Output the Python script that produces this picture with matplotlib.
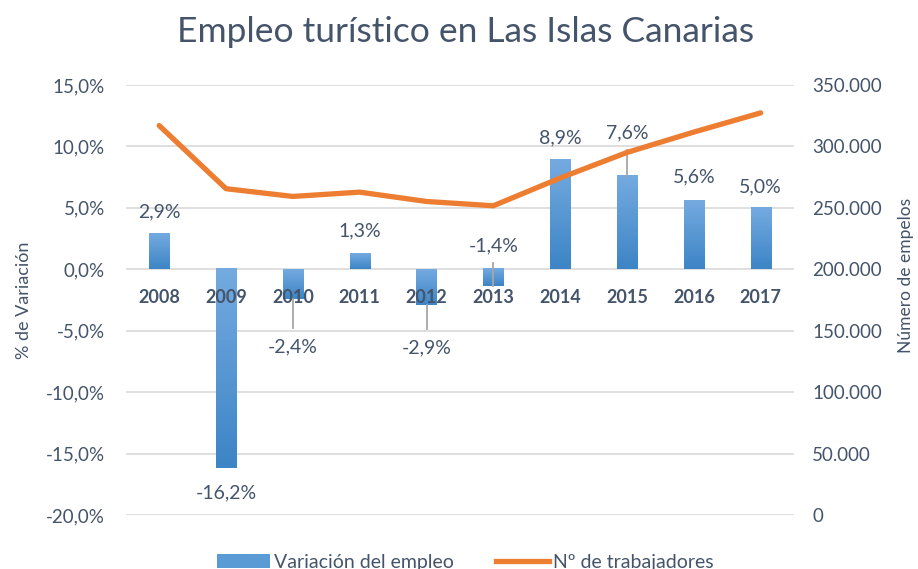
import numpy as np
import matplotlib
matplotlib.use('Agg')
import matplotlib.pyplot as plt
from matplotlib.colors import LinearSegmentedColormap
from matplotlib.patches import Patch
from matplotlib.lines import Line2D

plt.rcParams['font.family'] = ['Lato', 'DejaVu Sans']

# datos
years = ['2008', '2009', '2010', '2011', '2012', '2013', '2014', '2015', '2016', '2017']
variacion = [2.9, -16.2, -2.4, 1.3, -2.9, -1.4, 8.9, 7.6, 5.6, 5.0]
trabajadores = [317000, 265600, 259300, 262800, 255200, 251700, 274300, 295100, 311700, 327300]
etiquetas = ['2,9%', '-16,2%', '-2,4%', '1,3%', '-2,9%', '-1,4%', '8,9%', '7,6%', '5,6%', '5,0%']

txt = '#44546a'
fig = plt.figure(figsize=(9.18, 5.69), dpi=100)
ax = fig.add_axes([0.137, 0.0949, 0.728, 0.7557])
ax2 = ax.twinx()

x = np.arange(len(years))
w = 0.3
cmap = LinearSegmentedColormap.from_list('azul', ['#3d85c6', '#74aae0'])
grad = np.linspace(0, 1, 50).reshape(-1, 1)
for xi, v in zip(x, variacion):
    bot, top = min(0, v), max(0, v)
    ax.imshow(grad, extent=[xi - w/2, xi + w/2, bot, top], origin='lower',
              cmap=cmap, aspect='auto', zorder=2)
ax.set_xlim(-0.5, len(years) - 0.5)
ax.set_ylim(-20, 15)
ax.set_yticks(np.arange(-20, 16, 5))
ax.set_yticklabels([f'{t:.1f}%'.replace('.', ',') for t in np.arange(-20, 16, 5)])
ax.grid(axis='y', color='#d9d9d9', lw=1.2, zorder=0)
ax.set_axisbelow(True)
ax.set_xticks([])
for s in ax.spines.values():
    s.set_visible(False)
for s in ax2.spines.values():
    s.set_visible(False)
ax.tick_params(axis='y', length=0, labelsize=13.5, labelcolor=txt, pad=15)
ax.set_ylabel('% de Variación', fontsize=13, color=txt, va='center')
ax.yaxis.set_label_coords(-0.152, 0.5)

# años
for xi, y in zip(x, years):
    ax.text(xi, -2.3, y, ha='center', va='center', fontsize=13,
            fontweight='bold', color=txt, zorder=3)

# etiquetas de valores (posiciones en %)
lab_y = [4.7, -18.2, -6.3, 3.1, -6.4, 1.9, 10.7, 11.1, 7.5, 6.7]
for xi, v, s, ly in zip(x, variacion, etiquetas, lab_y):
    ax.text(xi, ly, s, ha='center', va='center', fontsize=14, color=txt, zorder=4)
# lineas guia
guias = {2: (-2.4, -4.8), 4: (-2.9, -4.9), 5: (0.5, -1.4), 7: (7.6, 9.7)}
for i, (a, b) in guias.items():
    ax.plot([x[i], x[i]], [a, b], color='#a6a6a6', lw=1.3, zorder=3)

ax2.plot(x, trabajadores, color='#ed7d31', lw=3.8, solid_capstyle='round', zorder=5)
ax2.set_ylim(0, 350000)
ax2.set_yticks(np.arange(0, 350001, 50000))
ax2.set_yticklabels(['0'] + [f'{int(t/1000)}.000' for t in np.arange(50000, 350001, 50000)])
ax2.tick_params(axis='y', length=0, labelsize=13.5, labelcolor=txt, pad=13)
ax2.set_ylabel('Número de empelos', fontsize=12.5, color=txt, va='center')
ax2.yaxis.set_label_coords(1.167, 0.558)

fig.text(0.507, 0.944, 'Empleo turístico en Las Islas Canarias', ha='center', va='center',
         fontsize=25.5, color=txt)

handles = [Patch(facecolor='#5b9bd5', edgecolor='none'),
           Line2D([0], [0], color='#ed7d31', lw=3.8)]
fig.legend(handles, ['Variación del empleo', 'Nº de trabajadores'], loc='center',
           bbox_to_anchor=(0.507, 0.012), ncol=2, frameon=False, fontsize=14,
           labelcolor=txt, handlelength=2.7, handletextpad=0.2, columnspacing=2.2)

fig.savefig('out.png', dpi=100)
